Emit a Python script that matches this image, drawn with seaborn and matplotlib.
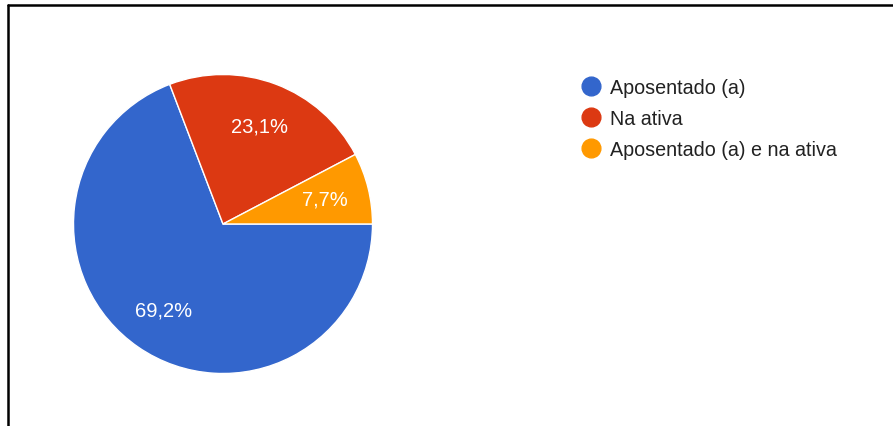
import matplotlib
matplotlib.use("Agg")
import matplotlib.pyplot as plt
from matplotlib.lines import Line2D
import numpy as np
import seaborn as sns

# Situação profissional dos respondentes
categories = ["Aposentado (a)", "Na ativa", "Aposentado (a) e na ativa"]
shares = [69.2, 23.1, 7.7]
pct_labels = ["69,2%", "23,1%", "7,7%"]
colors = ["#3366cc", "#dc3912", "#ff9900"]

sns.set_theme(style="white")
plt.rcParams["font.family"] = ["Liberation Sans", "DejaVu Sans"]

W, H = 893, 427
fig = plt.figure(figsize=(W / 100, H / 100), dpi=100)
fig.patch.set_facecolor("white")

# pie axes: centre (223, 225) px from top-left, radius 151 px
cx, cy, r = 223, 225, 151
ax = fig.add_axes([(cx - r) / W, (H - cy - r) / H, 2 * r / W, 2 * r / H])
wedges, _ = ax.pie(
    shares,
    colors=colors,
    startangle=0,
    counterclock=False,
    radius=1.0,
    wedgeprops=dict(edgecolor="white", linewidth=1.0),
)
ax.set_xlim(-1.01, 1.01)
ax.set_ylim(-1.01, 1.01)
ax.axis("off")

# percentage labels inside each slice
for w, lab in zip(wedges, pct_labels):
    ang = np.deg2rad((w.theta1 + w.theta2) / 2)
    ax.text(0.70 * np.cos(ang), 0.70 * np.sin(ang), lab,
            ha="center", va="center", color="white", fontsize=14.5)

# legend with round markers
handles = [Line2D([0], [0], marker="o", linestyle="none", markersize=13.5,
                  markerfacecolor=c, markeredgecolor=c) for c in colors]
fig.legend(handles, categories, loc="upper left",
           bbox_to_anchor=(582 / W, 1 - 79 / H), frameon=False,
           fontsize=14.2, handlelength=0.95, handletextpad=0.45,
           labelspacing=0.6, borderpad=0, borderaxespad=0,
           labelcolor="#222222")

# frame lines along top and left edges
fig.add_artist(Line2D([7.5 / W, 1.0], [1 - 5.5 / H, 1 - 5.5 / H],
                      transform=fig.transFigure, color="black", linewidth=1.8))
fig.add_artist(Line2D([7.5 / W, 7.5 / W], [0.0, 1 - 5.5 / H],
                      transform=fig.transFigure, color="black", linewidth=1.8))

fig.savefig("out.png", dpi=100, facecolor="white")
